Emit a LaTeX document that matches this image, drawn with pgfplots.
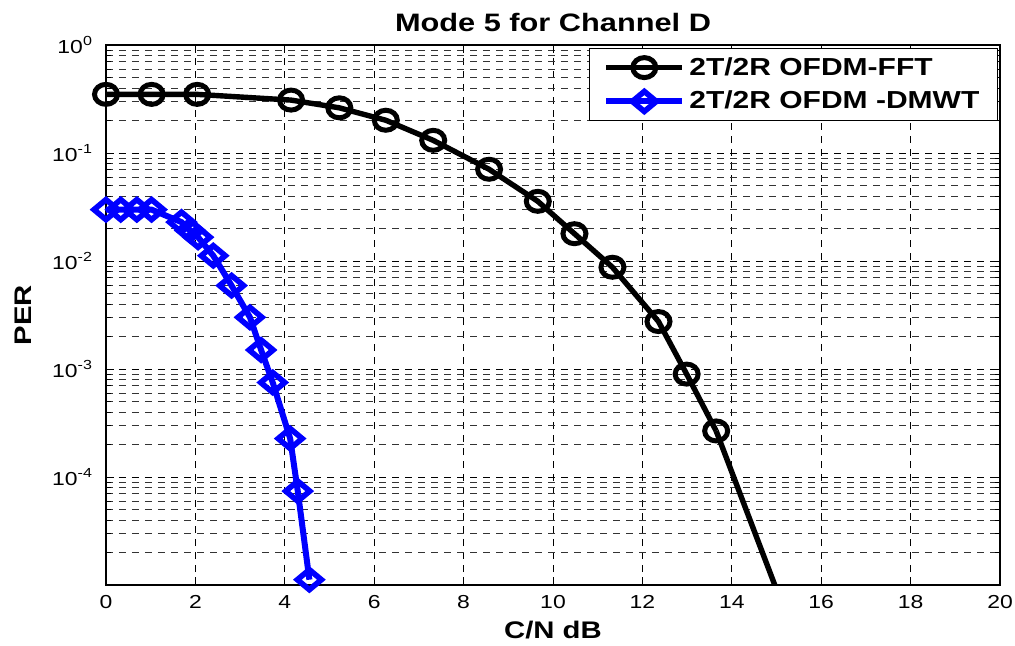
\documentclass[border=0pt]{standalone}
\usepackage{fontspec}
\setmainfont{Liberation Sans}[FakeStretch=1.22]
\usepackage{pgfplots}
\pgfplotsset{compat=1.18}
\begin{document}
\begin{tikzpicture}
\useasboundingbox (-53pt,-30.5pt) rectangle (454.5pt,292.5pt);
\begin{axis}[
  at={(0,0)}, anchor=south west,
  width=447pt, height=270pt, scale only axis,
  ymode=log,
  xmin=0, xmax=20, ymin=1e-5, ymax=1,
  xtick={0,2,...,20},
  ytick={1e-5,1e-4,1e-3,1e-2,1e-1,1},
  yticklabels={,10\textsuperscript{-4},10\textsuperscript{-3},10\textsuperscript{-2},10\textsuperscript{-1},10\textsuperscript{0}},
  /pgf/number format/assume math mode=true,
  tick label style={font=\fontsize{9.4}{11}\selectfont},
  xticklabel style={anchor=base, yshift=-11.5pt},
  yticklabel style={xshift=-3pt},
  tick align=inside,
  major tick length=4pt, minor tick length=2.5pt,
  axis line style={line width=0.8pt},
  every tick/.style={black, line width=0.4pt},
  grid=both,
  major grid style={black, line width=0.4pt, dash pattern=on 3.5pt off 3pt},
  minor grid style={black!80, line width=0.4pt, dash pattern=on 3.5pt off 3pt},
  minor x tick num=0,
  title={Mode 5 for Channel D},
  title style={font=\fontsize{12.6}{15}\selectfont\bfseries, at={(axis description cs:0.5,1)}, anchor=base, yshift=0.5pt},
  xlabel={C/N dB},
  xlabel style={font=\fontsize{12}{14}\selectfont\bfseries, at={(axis description cs:0.5,0)}, anchor=base, yshift=-26.5pt},
  ylabel={PER},
  ylabel style={font=\fontsize{12}{14}\selectfont\bfseries, at={(axis description cs:-0.0828,0.5)}, anchor=base, rotate=0},
  legend style={at={(1,1)}, anchor=north east, xshift=-1pt, yshift=-1.3pt,
    draw=black, line width=0.6pt, fill=white,
    font=\fontsize{12.3}{14}\selectfont\bfseries,
    inner xsep=7pt, inner ysep=2.5pt, row sep=2.5pt},
  legend cell align=left,
  legend image code/.code={\draw[mark repeat=2,mark phase=2,#1] plot coordinates {(0pt,0pt) (19pt,0pt) (38pt,0pt)};},
]
\addplot[black, line width=2.7pt, mark=o, mark size=5pt, mark options={xscale=1.15, line width=2.5pt, solid}] coordinates {
(0,0.349) (1.02,0.349) (2.04,0.349) (4.14,0.309) (5.22,0.262) (6.26,0.201)
(7.32,0.131) (8.57,0.0707) (9.66,0.0357) (10.48,0.0179) (11.33,0.00875)
(12.36,0.00275) (12.99,0.000897) (13.65,0.000267)
};
\addlegendentry{2T/2R OFDM-FFT}
\addplot[blue, line width=3pt, mark=diamond, mark size=5pt, mark options={xscale=1.6, line width=2.8pt, solid}] coordinates {
(0,0.0299) (0.33,0.0299) (0.69,0.0299) (1.02,0.0299) (1.69,0.0229) (1.88,0.0192)
(2.06,0.0166) (2.40,0.0112) (2.81,0.00592) (3.22,0.00301) (3.47,0.00150)
(3.73,0.00075) (4.12,0.000227) (4.29,7.4e-5) (4.55,1.12e-5)
};
\addlegendentry{2T/2R OFDM -DMWT}
\addplot[black, line width=2.7pt, forget plot] coordinates {(13.65,0.000267) (15.2,5.5e-6)};
\end{axis}
\end{tikzpicture}
\end{document}
